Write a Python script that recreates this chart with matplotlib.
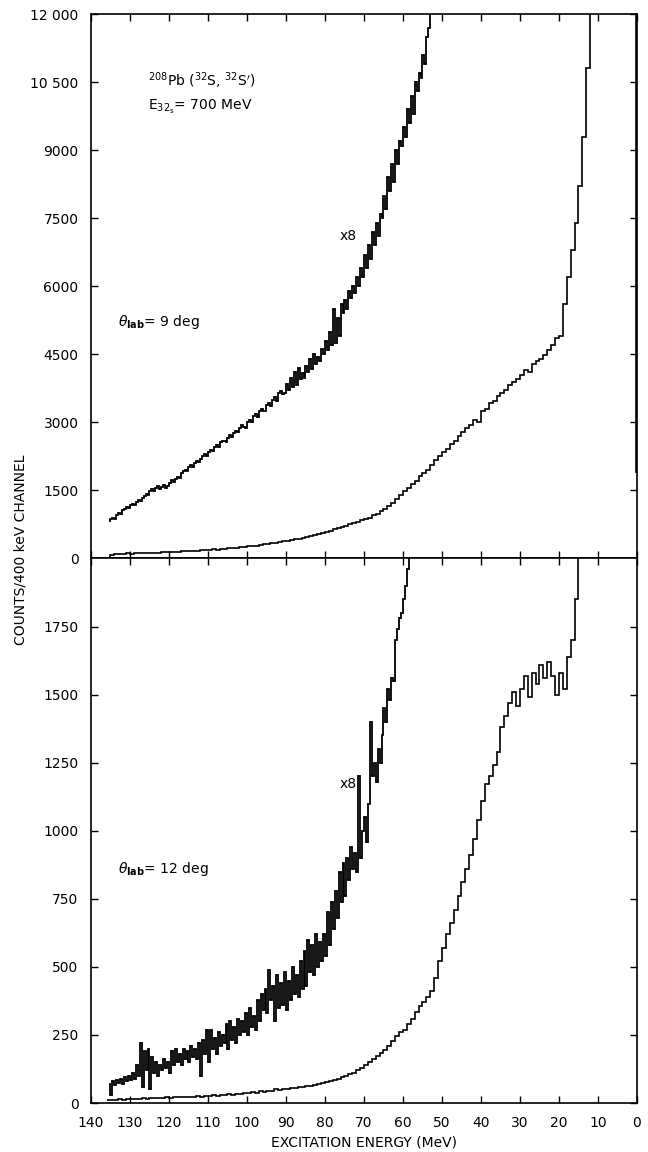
import numpy as np
import matplotlib.pyplot as plt

# 9 deg spectrum, 1 MeV bins from 136 MeV down to 11 MeV
e9_start = 136.0
counts9 = [20, 70, 95, 100, 105, 110,
           108, 115, 112, 120, 118, 126, 130, 128, 136, 140,
           145, 150, 148, 156, 160, 166, 170, 168, 178, 186,
           190, 200, 198, 210, 216, 225, 232, 240, 248, 258,
           268, 280, 286, 300, 310, 322, 335, 350, 362, 378,
           392, 405, 420, 440, 455, 475, 495, 515, 540, 565,
           590, 615, 640, 665, 690, 720, 750, 780, 810, 850,
           880, 900, 960, 990, 1050, 1090, 1160, 1220, 1310, 1400,
           1480, 1560, 1640, 1700, 1820, 1880, 1960, 2060, 2160, 2250,
           2350, 2420, 2530, 2600, 2700, 2780, 2880, 2950, 3050, 3000,
           3250, 3300, 3420, 3480, 3580, 3640, 3720, 3820, 3880, 3960,
           4050, 4150, 4100, 4280, 4350, 4400, 4480, 4600, 4700, 4850,
           4900, 5600, 6200, 6800, 7400, 8200, 9300, 10800, 12500]
# elastic peak tail near 0 MeV
elastic9_e = [0.1, 0.35, 1.0]
elastic9_counts = [1900, 20000]

# 9 deg spectrum x8, 0.5 MeV bins from 135.5 MeV
e9x8_start = 135.5
counts9x8 = [830, 880, 900, 870, 960, 1000, 980, 1060, 1100, 1140,
             1120, 1180, 1210, 1170, 1250, 1290, 1260, 1340, 1380, 1420,
             1400, 1480, 1530, 1490, 1560, 1600, 1540, 1580, 1620, 1560,
             1600, 1660, 1720, 1690, 1760, 1800, 1780, 1880, 1920, 1960,
             1920, 2020, 2060, 2010, 2100, 2140, 2120, 2200, 2260, 2300,
             2260, 2340, 2400, 2360, 2450, 2500, 2460, 2560, 2600, 2580,
             2560, 2650, 2720, 2680, 2760, 2820, 2790, 2880, 2940, 2900,
             2880, 3000, 3060, 3010, 3140, 3180, 3120, 3250, 3300, 3260,
             3250, 3380, 3420, 3360, 3500, 3560, 3480, 3640, 3700, 3620,
             3650, 3850, 3720, 3980, 3780, 4120, 3820, 4200, 3950, 4080,
             3980, 4250, 4100, 4400, 4180, 4500, 4280, 4450, 4350, 4620,
             4500, 4800, 4600, 5000, 4700, 5500, 4750, 5300, 4900, 5600,
             5400, 5700, 5500, 5900, 5750, 6000, 5850, 6200, 6000, 6400,
             6200, 6700, 6400, 6900, 6600, 7200, 6900, 7400, 7100, 7600,
             7500, 8000, 7700, 8400, 8100, 8700, 8300, 9000, 8700, 9200,
             9100, 9500, 9300, 9900, 9600, 10200, 9800, 10500, 10300, 10700,
             10600, 11100, 10900, 11500, 11700, 12500]

# 12 deg spectrum, 1 MeV bins from 136 MeV down to 14 MeV
e12_start = 136.0
counts12 = [10, 12, 10, 14, 12, 15,
            14, 16, 15, 18, 16, 19, 18, 20, 19, 21,
            20, 22, 21, 23, 22, 24, 23, 25, 24, 26,
            26, 28, 27, 30, 29, 32, 31, 34, 33, 36,
            36, 40, 38, 43, 42, 46, 45, 50, 48, 53,
            52, 56, 55, 60, 58, 64, 62, 68, 70, 75,
            76, 82, 84, 90, 94, 100, 106, 112, 120, 130,
            138, 150, 160, 172, 185, 195, 210, 228, 245, 262,
            270, 290, 310, 335, 355, 370, 390, 410, 460, 520,
            570, 620, 660, 710, 760, 810, 860, 910, 970, 1040,
            1110, 1170, 1200, 1240, 1290, 1380, 1420, 1470, 1510, 1460,
            1520, 1570, 1490, 1580, 1540, 1610, 1560, 1620, 1570, 1500,
            1580, 1520, 1640, 1700, 1850, 2100]

# 12 deg spectrum x8, 0.5 MeV bins from 135.5 MeV
e12x8_start = 135.5
counts12x8 = [70, 30, 80, 65, 85, 75, 90, 70, 95, 80,
              100, 85, 110, 90, 140, 100, 220, 60, 190, 120,
              200, 50, 170, 110, 150, 100, 140, 120, 160, 130,
              150, 110, 190, 140, 200, 150, 180, 140, 200, 160,
              190, 150, 210, 170, 200, 160, 220, 100, 230, 180,
              270, 150, 270, 200, 240, 180, 260, 210, 250, 220,
              290, 200, 300, 230, 280, 220, 310, 250, 300, 260,
              330, 250, 350, 280, 320, 270, 380, 300, 400, 340,
              420, 330, 490, 380, 430, 300, 470, 350, 440, 360,
              480, 340, 450, 380, 500, 400, 470, 390, 520, 420,
              560, 430, 600, 480, 580, 470, 620, 500, 590, 520,
              620, 540, 700, 580, 740, 640, 780, 680, 850, 740,
              880, 760, 900, 820, 940, 860, 920, 850, 1200, 900,
              1000, 1050, 960, 1100, 1400, 1200, 1250, 1180, 1300, 1250,
              1350, 1450, 1400, 1520, 1480, 1560, 1550, 1700, 1740, 1780,
              1800, 1850, 1900, 1960, 2100]

xticks = list(range(0, 141, 10))
yticks_top = [0, 1500, 3000, 4500, 6000, 7500, 9000, 10500, 12000]
ylabels_top = ['0', '1500', '3000', '4500', '6000', '7500', '9000', '10 500', '12 000']
yticks_bot = [0, 250, 500, 750, 1000, 1250, 1500, 1750]


def edges_for(start, width, n):
    return start - width * np.arange(n + 1)


def draw(ax, start, width, vals, lw):
    e = edges_for(start, width, len(vals))
    ax.stairs(np.array(vals)[::-1], e[::-1], baseline=None, color='black', lw=lw)


fig = plt.figure(figsize=(6.48, 11.52), dpi=100)
ax1 = fig.add_axes([0.1404, 0.5152, 0.8426, 0.4726])
ax2 = fig.add_axes([0.1404, 0.0425, 0.8426, 0.4727])

draw(ax1, e9_start, 1.0, counts9, 1.2)
ax1.stairs(elastic9_counts, elastic9_e, baseline=None, color='black', lw=1.2)
draw(ax1, e9x8_start, 0.5, counts9x8, 1.3)
draw(ax2, e12_start, 1.0, counts12, 1.2)
draw(ax2, e12x8_start, 0.5, counts12x8, 1.3)

for ax in (ax1, ax2):
    ax.set_xlim(140, 0)
    ax.set_xticks(xticks)
    ax.tick_params(direction='in', length=5, width=1, top=True, right=True,
                   labelsize=10)
    ax.tick_params(axis='y', pad=9)
    ax.tick_params(axis='x', pad=9)
    for s in ax.spines.values():
        s.set_linewidth(1.2)

ax1.set_ylim(0, 12000)
ax1.set_yticks(yticks_top)
ax1.set_yticklabels(ylabels_top)
ax1.tick_params(labelbottom=False)

ax2.set_ylim(0, 2000)
ax2.set_yticks(yticks_bot)
ax2.set_xlabel('EXCITATION ENERGY (MeV)', fontsize=10, labelpad=4)

ax1.text(125.4, 10530, r'$^{208}$Pb ($^{32}$S, $^{32}$S$^{\prime}$)', fontsize=10,
         va='center')
ax1.text(125.4, 9950, r'E$_{32_{\mathrm{s}}}$= 700 MeV', fontsize=10, va='center')
ax1.text(74, 7100, 'x8', fontsize=10, ha='center', va='center')
ax1.text(133, 5210, r'$\theta_{\mathbf{lab}}$= 9 deg', fontsize=10, va='center')

ax2.text(74, 1170, 'x8', fontsize=10, ha='center', va='center')
ax2.text(133, 860, r'$\theta_{\mathbf{lab}}$= 12 deg', fontsize=10, va='center')

fig.text(0.031, 1 - 550 / 1152, 'COUNTS/400 keV CHANNEL', rotation=90,
         fontsize=10, ha='center', va='center')

fig.savefig('out.png', dpi=100)
